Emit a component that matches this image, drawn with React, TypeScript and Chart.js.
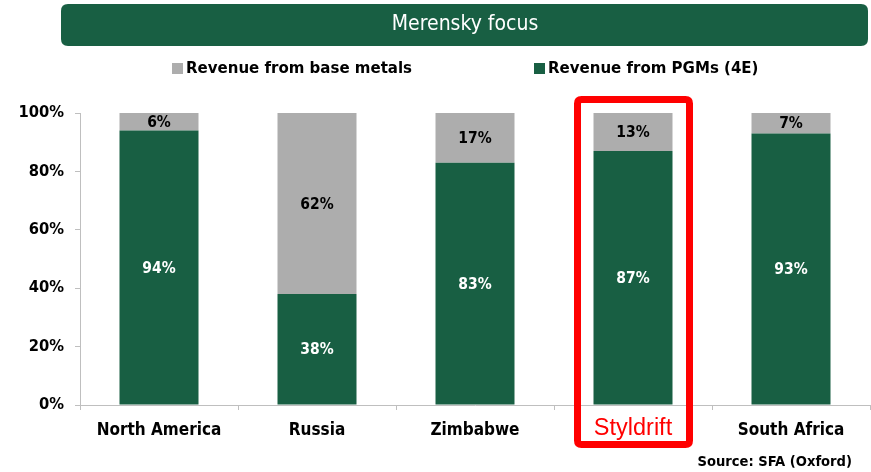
import React, { useEffect, useRef } from "react";
import { Chart, registerables } from "chart.js";

Chart.register(...registerables);

const categories = ["North America", "Russia", "Zimbabwe", "Styldrift", "South Africa"];
const pgmShare = [94, 38, 83, 87, 93];
const baseShare = [6, 62, 17, 13, 7];
const yTicks = [0, 20, 40, 60, 80, 100];
const seriesNames = ["Revenue from base metals", "Revenue from PGMs (4E)"];
const chartTitle = "Merensky focus";
const sourceText = "Source: SFA (Oxford)";
const highlightIndex = 3;

const GREEN = "#185F43";
const GRAY = "#ADADAD";
const FONT = "'DejaVu Sans Condensed', 'DejaVu Sans', sans-serif";

function roundRect(ctx: CanvasRenderingContext2D, x: number, y: number, w: number, h: number, r: number) {
  ctx.beginPath();
  ctx.moveTo(x + r, y);
  ctx.lineTo(x + w - r, y);
  ctx.quadraticCurveTo(x + w, y, x + w, y + r);
  ctx.lineTo(x + w, y + h - r);
  ctx.quadraticCurveTo(x + w, y + h, x + w - r, y + h);
  ctx.lineTo(x + r, y + h);
  ctx.quadraticCurveTo(x, y + h, x, y + h - r);
  ctx.lineTo(x, y + r);
  ctx.quadraticCurveTo(x, y, x + r, y);
  ctx.closePath();
}

const decorPlugin = {
  id: "decor",
  beforeDraw(chart: any) {
    const ctx = chart.ctx as CanvasRenderingContext2D;
    const W = chart.width;
    ctx.save();
    ctx.fillStyle = GREEN;
    roundRect(ctx, 61, 4, W - 64, 42, 7);
    ctx.fill();
    ctx.fillStyle = "#FFFFFF";
    ctx.font = `21px ${FONT}`;
    ctx.textAlign = "center";
    ctx.textBaseline = "middle";
    ctx.fillText(chartTitle, 465, 25);
    ctx.font = `bold 16.7px ${FONT}`;
    ctx.textAlign = "left";
    const items = [
      { x: 172, color: GRAY, text: seriesNames[0] },
      { x: 534, color: GREEN, text: seriesNames[1] },
    ];
    for (const it of items) {
      ctx.fillStyle = it.color;
      ctx.fillRect(it.x, 63, 11, 11);
      ctx.fillStyle = "#000000";
      ctx.fillText(it.text, it.x + 14, 69);
    }
    ctx.restore();
  },
  afterDatasetsDraw(chart: any) {
    const ctx = chart.ctx as CanvasRenderingContext2D;
    ctx.save();
    ctx.font = `bold 15.5px ${FONT}`;
    ctx.textAlign = "center";
    ctx.textBaseline = "middle";
    chart.data.datasets.forEach((ds: any, di: number) => {
      const meta = chart.getDatasetMeta(di);
      meta.data.forEach((bar: any, i: number) => {
        const v = ds.data[i];
        const cy = (bar.y + bar.base) / 2;
        ctx.fillStyle = di === 0 ? "#FFFFFF" : "#000000";
        ctx.fillText(v + "%", bar.x, cy + 1);
      });
    });
    ctx.restore();
  },
  afterDraw(chart: any) {
    const ctx = chart.ctx as CanvasRenderingContext2D;
    const x = chart.scales.x;
    const cx = x.getPixelForValue(highlightIndex);
    ctx.save();
    ctx.strokeStyle = "#FF0000";
    ctx.lineWidth = 7;
    roundRect(ctx, cx - 55.5, chart.chartArea.top - 13.5, 112, 345, 4);
    ctx.stroke();
    ctx.fillStyle = "#000000";
    ctx.font = `bold 14.6px ${FONT}`;
    ctx.textAlign = "right";
    ctx.textBaseline = "middle";
    ctx.fillText(sourceText, 852, 462);
    ctx.restore();
  },
};

export default function App() {
  const ref = useRef<HTMLCanvasElement | null>(null);
  useEffect(() => {
    document.body.style.margin = "0";
    const canvas = ref.current!;
    const chart = new Chart(canvas, {
      type: "bar",
      data: {
        labels: categories,
        datasets: [
          { label: seriesNames[1], data: pgmShare, backgroundColor: GREEN, borderWidth: 0, barPercentage: 0.5, categoryPercentage: 1 },
          { label: seriesNames[0], data: baseShare, backgroundColor: GRAY, borderWidth: 0, barPercentage: 0.5, categoryPercentage: 1 },
        ],
      },
      options: {
        animation: false,
        responsive: false,
        layout: { padding: { top: 113, right: 1, left: 0, bottom: 27 } },
        plugins: { legend: { display: false }, tooltip: { enabled: false }, title: { display: false } },
        scales: {
          x: {
            stacked: true,
            grid: { offset: true, drawOnChartArea: false, drawTicks: true, tickLength: 5, color: "#BFBFBF" },
            border: { color: "#BFBFBF" },
            afterFit: (s: any) => { s.height = 40; },
            ticks: {
              padding: 10,
              color: (c: any) => (c.index === highlightIndex ? "#FF0000" : "#000000"),
              font: (c: any) =>
                c.index === highlightIndex
                  ? { family: "'Liberation Sans', Arial, sans-serif", size: 23.5, weight: "normal", lineHeight: 0.7 }
                  : { family: FONT, size: 17, weight: "bold" },
            },
          },
          y: {
            stacked: true,
            min: 0,
            max: 100,
            afterFit: (s: any) => { s.width = 80; },
            afterBuildTicks: (s: any) => { s.ticks = yTicks.map((v) => ({ value: v })); },
            grid: { drawOnChartArea: false, drawTicks: true, tickLength: 5, color: "#BFBFBF" },
            border: { color: "#BFBFBF" },
            ticks: {
              padding: 11,
              color: "#000000",
              font: { family: FONT, size: 16.4, weight: "bold" },
              callback: (v: any) => v + "%",
            },
          },
        },
      },
      plugins: [decorPlugin],
    });
    return () => chart.destroy();
  }, []);
  return <canvas ref={ref} width={871} height={472} style={{ display: "block" }} />;
}
